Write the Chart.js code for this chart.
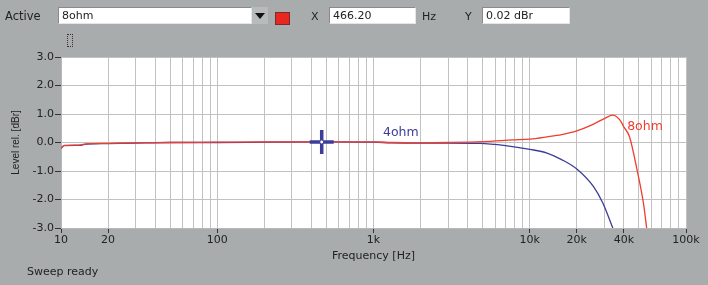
<!DOCTYPE html>
<html lang="en">
<head>
<meta charset="UTF-8">
<title>Frequency Response</title>
<script src="https://cdn.jsdelivr.net/npm/chart.js"></script>
<style>
    body {
        margin: 0;
        background-color: #a9acac;
        font-family: "DejaVu Sans", sans-serif;
        font-size: 11px;
        color: #222;
        width: 708px;
        height: 285px;
        overflow: hidden;
        position: relative;
    }
    #chart {
        position: absolute;
        left: 0;
        top: 0;
    }
    .lbl {
        position: absolute;
        line-height: 13px;
    }
    .box {
        position: absolute;
        background: #fff;
        border-top: 1px solid #8a8a8a;
        border-left: 1px solid #8a8a8a;
        border-right: 1px solid #e6e6e6;
        border-bottom: 1px solid #e6e6e6;
        height: 16px;
        line-height: 16px;
        padding-left: 3px;
        box-sizing: border-box;
    }
    #arrow {
        position: absolute;
        left: 252px;
        top: 7px;
        width: 16px;
        height: 17px;
        background: #b8bbbb;
    }
    #arrow:after {
        content: "";
        position: absolute;
        left: 3px;
        top: 6px;
        border-left: 5px solid transparent;
        border-right: 5px solid transparent;
        border-top: 6px solid #111;
    }
    #swatch {
        position: absolute;
        left: 275px;
        top: 12px;
        width: 13px;
        height: 11px;
        background: #e8281e;
        border: 1px solid #7a2a2a;
    }
    #icon {
        position: absolute;
        left: 67px;
        top: 34px;
        width: 4px;
        height: 11px;
        border: 1px dotted #333;
    }
</style>
</head>
<body>
<canvas id="chart" width="708" height="285"></canvas>

<div class="lbl" style="left:5px;top:10px;font-size:11.5px;">Active</div>
<div class="box" style="left:58px;top:7px;width:194px;height:17px;">8ohm</div>
<div id="arrow"></div>
<div id="swatch"></div>
<div class="lbl" style="left:311px;top:10px;">X</div>
<div class="box" style="left:329px;top:7px;width:87px;height:17px;">466.20</div>
<div class="lbl" style="left:422px;top:10px;">Hz</div>
<div class="lbl" style="left:465px;top:10px;">Y</div>
<div class="box" style="left:482px;top:7px;width:88px;height:17px;">0.02 dBr</div>
<div id="icon"></div>
<div class="lbl" style="left:27px;top:265px;">Sweep ready</div>

<script>
    const freq8 = [10, 10.5, 13, 14.5, 20, 30, 50, 100, 200, 500, 1000, 1300, 2000, 3000, 5000, 7800, 10000, 12900, 16000, 20000, 25000, 30000, 34000, 37600, 40000, 43500, 48600, 53400, 56000];
    const level8 = [-0.19, -0.1, -0.09, -0.05, -0.03, -0.01, 0, 0.01, 0.02, 0.02, 0.02, 0, -0.01, 0, 0.03, 0.09, 0.12, 0.2, 0.28, 0.41, 0.62, 0.84, 0.96, 0.8, 0.55, 0.2, -0.96, -2.13, -3.0];

    const freq4 = [10, 10.5, 13, 14.5, 20, 30, 50, 100, 200, 500, 1000, 1300, 2000, 3000, 4800, 7000, 10000, 12900, 16000, 20000, 25600, 29400, 34000];
    const level4 = [-0.2, -0.11, -0.1, -0.06, -0.04, -0.02, 0, 0, 0.01, 0.02, 0.01, -0.01, -0.02, -0.02, -0.03, -0.11, -0.24, -0.37, -0.6, -0.93, -1.55, -2.13, -3.0];

    const cursorFreq = [466.2];
    const cursorLevel = [0.02];

    const curveNames = ['4ohm', '8ohm'];
    const curveColors = ['#3c3c9a', '#ee3e2e'];
    const nameFreq = [1150, 42000];
    const nameLevel = [0.33, 0.54];

    const freqLabels = { 10: '10', 20: '20', 100: '100', 1000: '1k', 10000: '10k', 20000: '20k', 40000: '40k', 100000: '100k' };

    function pts(xs, ys) {
        return xs.map((x, i) => ({ x: x, y: ys[i] }));
    }

    const plotBg = {
        id: 'plotBg',
        beforeDraw(chart) {
            const a = chart.chartArea;
            chart.ctx.save();
            chart.ctx.fillStyle = '#ffffff';
            chart.ctx.fillRect(a.left, a.top, a.right - a.left, a.bottom - a.top);
            chart.ctx.restore();
        }
    };

    const curveText = {
        id: 'curveText',
        afterDatasetsDraw(chart) {
            const ctx = chart.ctx;
            ctx.save();
            ctx.font = '12.5px "DejaVu Sans"';
            ctx.textBaseline = 'middle';
            curveNames.forEach((n, i) => {
                ctx.fillStyle = curveColors[i];
                ctx.fillText(n, chart.scales.x.getPixelForValue(nameFreq[i]), chart.scales.y.getPixelForValue(nameLevel[i]));
            });
            ctx.restore();
        }
    };

    const ctx = document.getElementById('chart').getContext('2d');
    Chart.defaults.font.family = '"DejaVu Sans", sans-serif';
    Chart.defaults.font.size = 11;
    Chart.defaults.color = '#222';

    const chart = new Chart(ctx, {
        type: 'line',
        data: {
            datasets: [{
                label: '4ohm',
                data: pts(freq4, level4),
                borderColor: curveColors[0],
                borderWidth: 1.3,
                pointRadius: 0,
                cubicInterpolationMode: 'monotone',
                order: 2
            }, {
                label: '8ohm',
                data: pts(freq8, level8),
                borderColor: curveColors[1],
                borderWidth: 1.3,
                pointRadius: 0,
                cubicInterpolationMode: 'monotone',
                order: 1
            }, {
                label: 'cursor',
                data: pts(cursorFreq, cursorLevel),
                showLine: false,
                pointStyle: 'cross',
                pointRadius: 12,
                borderWidth: 3.5,
                borderColor: '#3c3c9a',
                order: 0
            }, {
                label: 'cursorDot',
                data: pts(cursorFreq, cursorLevel),
                showLine: false,
                pointStyle: 'circle',
                pointRadius: 2,
                borderWidth: 1,
                borderColor: '#3c3c9a',
                backgroundColor: '#ffffff',
                order: -1
            }]
        },
        options: {
            responsive: false,
            animation: false,
            layout: { padding: { top: 57, right: 22, left: 0, bottom: 0 } },
            plugins: {
                legend: { display: false },
                tooltip: { enabled: false }
            },
            scales: {
                x: {
                    type: 'logarithmic',
                    min: 10,
                    max: 100000,
                    afterBuildTicks(axis) {
                        const t = [];
                        for (let d = 10; d < 100000; d *= 10) {
                            for (let m = 1; m < 10; m++) t.push({ value: d * m });
                        }
                        t.push({ value: 100000 });
                        axis.ticks = t;
                    },
                    afterFit(axis) { axis.height = 57; },
                    ticks: {
                        autoSkip: false,
                        maxRotation: 0,
                        padding: 1,
                        callback: (v) => freqLabels[Math.round(v)] || ''
                    },
                    grid: {
                        color: '#c2c2c2',
                        tickLength: 5,
                        tickColor: (c) => freqLabels[Math.round(c.tick.value)] ? '#333' : 'rgba(0,0,0,0)'
                    },
                    border: { color: '#b8b8b8' },
                    title: {
                        display: true,
                        text: 'Frequency [Hz]',
                        font: { size: 11 },
                        padding: { top: 0, bottom: 22 }
                    }
                },
                y: {
                    min: -3,
                    max: 3,
                    afterFit(axis) { axis.width = 61; },
                    ticks: {
                        stepSize: 1,
                        padding: 1,
                        callback: (v) => v.toFixed(1)
                    },
                    grid: {
                        color: '#c2c2c2',
                        tickLength: 6,
                        tickColor: '#333'
                    },
                    border: { color: '#b8b8b8' },
                    title: {
                        display: true,
                        text: 'Level rel. [dBr]',
                        font: { family: '"Liberation Sans", sans-serif', size: 10 },
                        padding: { top: 10, bottom: 0 }
                    }
                }
            }
        },
        plugins: [plotBg, curveText]
    });
</script>
</body>
</html>
